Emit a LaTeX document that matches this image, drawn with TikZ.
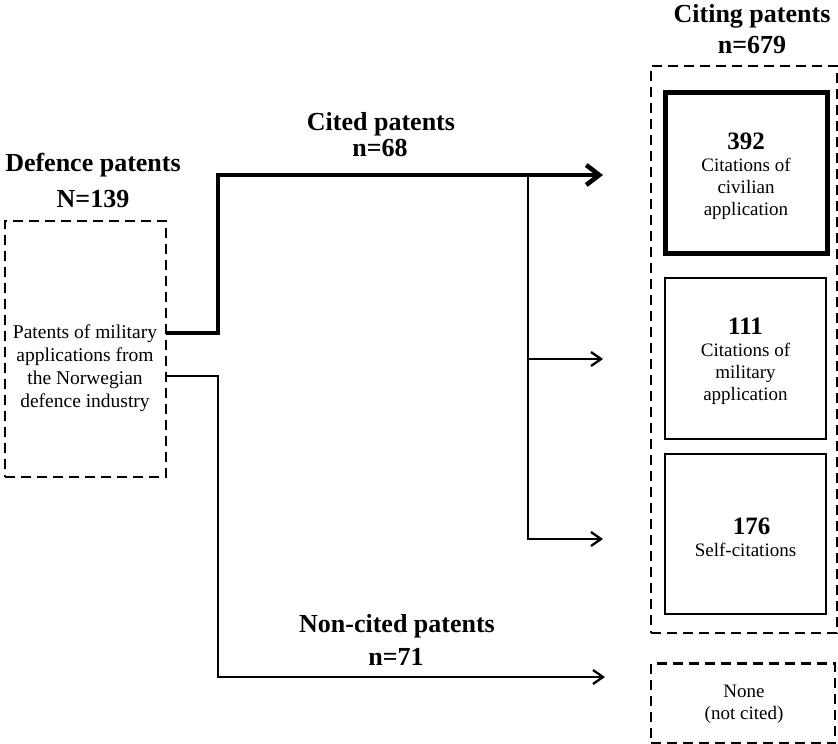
\documentclass[tikz,border=0pt]{standalone}
\usepackage{fontspec}
\setmainfont{Liberation Serif}
\usetikzlibrary{arrows.meta}

\begin{document}
\begin{tikzpicture}[x=1pt,y=-1pt,
  heading/.style={font=\fontsize{26}{30}\selectfont\bfseries, anchor=base, inner sep=0pt},
  bodytext/.style={font=\fontsize{19}{22}\selectfont, align=center, inner sep=0pt},
  dashbox/.style={draw, line width=2.4pt, dash pattern=on 10pt off 6pt, inner sep=0pt, outer sep=0pt},
  solidbox/.style={draw, line width=2.6pt, inner sep=0pt, outer sep=0pt},
  thinline/.style={line width=2.3pt, -{Straight Barb[length=10pt,width=14pt]}},
  thickline/.style={line width=4.6pt, -{Straight Barb[length=13pt,width=20pt]}}
]
\useasboundingbox (0,0) rectangle (838,744);

% --- boxes ---
\node[dashbox, minimum width=161pt, minimum height=256pt] (lbox) at (85.5,349) {};
\node[dashbox, minimum width=186pt, minimum height=567pt] (outer) at (744,349.5) {};
\node[solidbox, line width=5pt, minimum width=162pt, minimum height=161pt] (civil) at (746,172.5) {};
\node[solidbox, minimum width=161pt, minimum height=161pt] (milit) at (745.5,358.5) {};
\node[solidbox, minimum width=161pt, minimum height=160pt] (self) at (745.5,534) {};
\node[dashbox, minimum width=184pt, minimum height=80pt] (none) at (743,703.5) {};

% --- headings ---
\node[heading] (citingA) at (752,23) {Citing patents};
\node[heading] (citingB) at (752,53) {n=679};
\node[heading] (defA) at (93,171) {Defence patents};
\node[heading] (defB) at (93,207) {N=139};
\node[heading] (citedA) at (381,130) {Cited patents};
\node[heading] (citedB) at (380,156) {n=68};
\node[heading] (nonA) at (397,632) {Non-cited patents};
\node[heading] (nonB) at (396,665) {n=71};

% --- box texts ---
\node[bodytext, font=\fontsize{19.5}{23}\selectfont] (ltext) at (85,368)
  {Patents of military\\applications from\\the Norwegian\\defence industry};
\node[bodytext] (civtext) at (746,176)
  {{\fontsize{25}{25}\selectfont\bfseries 392}\\Citations of\\civilian\\application};
\node[bodytext] (miltext) at (745.5,361)
  {{\fontsize{25}{25}\selectfont\bfseries 111}\\Citations of\\military\\application};
\node[bodytext] (selftext) at (745.5,537)
  {{\fontsize{25}{25}\selectfont\bfseries\hspace*{12pt}176}\\Self-citations};
\node[bodytext] (nonetext) at (744,704) {None\\(not cited)};

% --- connector points ---
\coordinate (bendA) at (218,175);
\coordinate (tipA) at (603,175);
\coordinate (split) at (528,175);
\coordinate (tipB) at (603,359);
\coordinate (tipC) at (603,539);
\coordinate (bendB) at (218,677);
\coordinate (tipD) at (605,677);

% --- connectors ---
\draw[thickline] ([yshift=16pt]lbox.east) -| (bendA) -- (tipA);
\draw[thinline] (split) |- (tipC);
\draw[thinline] (split |- tipB) -- (tipB);
\draw[thinline] ([yshift=-27pt]lbox.east) -| (bendB) -- (tipD);
\end{tikzpicture}
\end{document}
